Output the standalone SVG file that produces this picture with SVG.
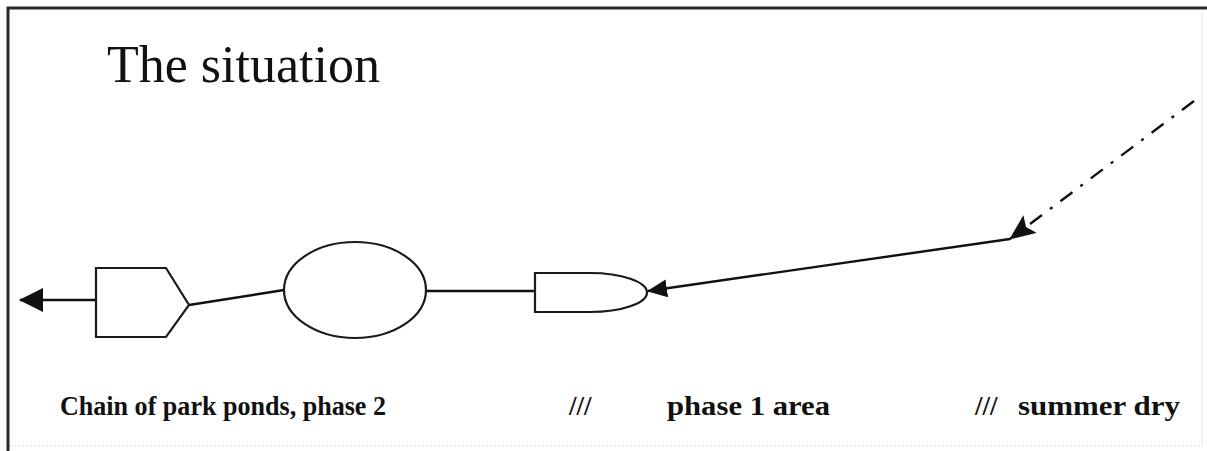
<svg xmlns="http://www.w3.org/2000/svg" width="1207" height="451" viewBox="0 0 1207 451">
<style>
.shape{fill:#fff;stroke:#1a1a1a;stroke-width:2.2}
.conn{fill:none;stroke:#111;stroke-width:2.4}
.lbl{font-family:"Liberation Serif","Times New Roman",serif;font-weight:bold;font-size:27px;fill:#111}
.title{font-family:"Liberation Serif","Times New Roman",serif;font-size:52px;fill:#111}
</style>
<defs>
<marker id="ah" viewBox="0 0 24 24" refX="23" refY="12" markerWidth="24" markerHeight="24" markerUnits="userSpaceOnUse" orient="auto">
<path d="M0,0 L24,12 L0,24 Z" fill="#111"/>
</marker>
<marker id="ah1" viewBox="0 0 20 18" refX="19" refY="9" markerWidth="20" markerHeight="18" markerUnits="userSpaceOnUse" orient="auto">
<path d="M0,0 L20,9 L0,18 Z" fill="#111"/>
</marker>
<marker id="ah2" viewBox="0 0 26 22" refX="25" refY="11" markerWidth="26" markerHeight="22" markerUnits="userSpaceOnUse" orient="auto">
<path d="M0,0 L26,11 L0,22 L5,11 Z" fill="#111"/>
</marker>
</defs>
<rect width="1207" height="451" fill="#fff"/>
<g id="frame">
<path d="M8,451 V8 H1207" fill="none" stroke="#2a2a2a" stroke-width="3"/>
<line x1="1202" y1="12" x2="1202" y2="446" stroke="#e4e4e4" stroke-width="1"/>
<line x1="10" y1="446" x2="1202" y2="446" stroke="#dcdcdc" stroke-width="1" stroke-dasharray="2,2"/>
</g>
<text class="title" x="107" y="82">The situation</text>
<g id="connectors">
<line class="conn" x1="96" y1="300" x2="20" y2="300" stroke-width="3" marker-end="url(#ah)"/>
<line class="conn" x1="189" y1="305" x2="284" y2="290" stroke-width="3"/>
<line class="conn" x1="426" y1="291" x2="535" y2="291"/>
<line class="conn" x1="1010" y1="239" x2="648" y2="291" marker-end="url(#ah1)"/>
<line class="conn" x1="1194" y1="101" x2="1010" y2="239" stroke-width="3" stroke-dasharray="15,10,3,10" marker-end="url(#ah2)"/>
</g>
<g id="node-pentagon">
<path class="shape" d="M96,268 H166 L189,305 L166,337 H96 Z"/>
</g>
<g id="node-ellipse">
<ellipse class="shape" cx="355" cy="290" rx="71" ry="48"/>
</g>
<g id="node-bullet">
<path class="shape" d="M535,273 H590 A57,19.5 0 0 1 590,312 H535 Z"/>
</g>
<g id="labels">
<text class="lbl" x="60" y="415" textLength="326" lengthAdjust="spacingAndGlyphs">Chain of park ponds, phase 2</text>
<text class="lbl" x="569" y="415">///</text>
<text class="lbl" x="667" y="415" textLength="163" lengthAdjust="spacingAndGlyphs">phase 1 area</text>
<text class="lbl" x="975" y="415">///</text>
<text class="lbl" x="1018" y="415" textLength="162" lengthAdjust="spacingAndGlyphs">summer dry</text>
</g>
</svg>
